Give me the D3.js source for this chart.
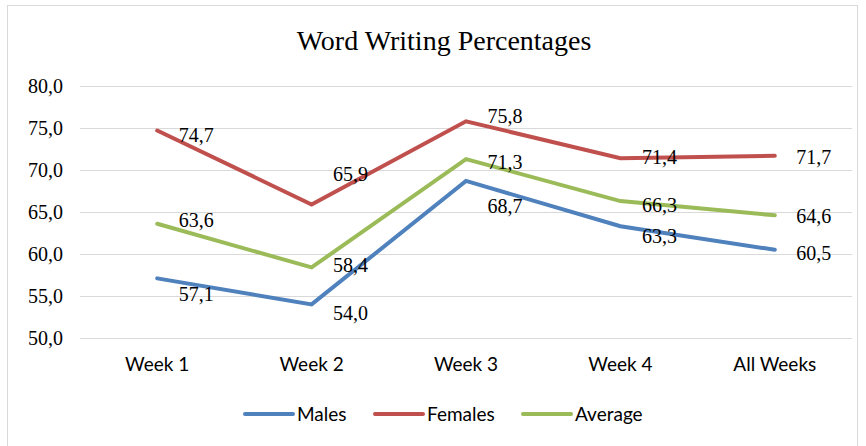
<!DOCTYPE html>
<html>
<head>
<meta charset="utf-8">
<script src="https://cdn.jsdelivr.net/npm/d3@7"></script>
<style>
  body { margin: 0; background: #fff; }
</style>
</head>
<body>
<div id="chart"></div>
<script>
// data
const categories = ["Week 1", "Week 2", "Week 3", "Week 4", "All Weeks"];
const males = [57.1, 54.0, 68.7, 63.3, 60.5];
const females = [74.7, 65.9, 75.8, 71.4, 71.7];
const average = [63.6, 58.4, 71.3, 66.3, 64.6];
const yTicks = [50, 55, 60, 65, 70, 75, 80];

// where each value label sits vertically, relative to its point (px)
const labelShift = {
  Males: [16, 9, 25, 10, 3],
  Females: [4, -30, -5, -1, 1],
  Average: [-4, -2, 3, 4, 1]
};

const series = [
  { name: "Males", values: males, color: "#4f81bd" },
  { name: "Females", values: females, color: "#c0504d" },
  { name: "Average", values: average, color: "#9bbb59" }
];

// set up
const width = 866, height = 446;
const margin = { top: 86, left: 80, right: 14, bottom: 108 };
const fmt = v => d3.format(".1f")(v).replace(".", ",");

const svg = d3.select("#chart").append("svg")
    .attr("width", width)
    .attr("height", height);

// outer frame
svg.append("rect")
    .attr("x", 7.5).attr("y", 5.5)
    .attr("width", 850).attr("height", 460)
    .attr("fill", "#fff")
    .attr("stroke", "#d9d9d9");

// scales
const x = d3.scaleBand()
    .domain(categories)
    .range([margin.left, width - margin.right]);

const y = d3.scaleLinear()
    .domain([50, 80])
    .range([height - margin.bottom, margin.top]);

// gridlines + y labels
const yAxis = d3.axisLeft(y)
    .tickValues(yTicks)
    .tickSize(-(width - margin.left - margin.right))
    .tickFormat(fmt)
    .tickPadding(17);

svg.append("g")
    .attr("transform", `translate(${margin.left},0)`)
    .call(yAxis)
    .call(g => g.select(".domain").remove())
    .call(g => g.selectAll(".tick line").attr("stroke", "#d9d9d9"))
    .call(g => g.selectAll(".tick text")
        .attr("font-family", "'Liberation Serif', 'Times New Roman', serif")
        .attr("font-size", "20px")
        .attr("fill", "#000"));

// x labels
const xAxis = d3.axisBottom(x).tickSize(0).tickPadding(20);
svg.append("g")
    .attr("transform", `translate(0,${height - margin.bottom})`)
    .call(xAxis)
    .call(g => g.select(".domain").remove())
    .call(g => g.selectAll(".tick text")
        .attr("font-family", "Lato, 'Open Sans', sans-serif")
        .attr("font-size", "19px")
        .attr("fill", "#000"));

// lines
const line = d3.line()
    .x((d, i) => x(categories[i]) + x.bandwidth() / 2)
    .y(d => y(d));

svg.append("g")
  .selectAll("path")
  .data(series)
  .join("path")
    .attr("fill", "none")
    .attr("stroke", d => d.color)
    .attr("stroke-width", 4)
    .attr("stroke-linecap", "round")
    .attr("stroke-linejoin", "miter")
    .attr("d", d => line(d.values));

// value labels
series.forEach(s => {
  svg.append("g")
    .selectAll("text")
    .data(s.values)
    .join("text")
      .attr("x", (d, i) => x(categories[i]) + x.bandwidth() / 2 + 39)
      .attr("y", (d, i) => y(d) + labelShift[s.name][i])
      .attr("dy", "0.35em")
      .attr("text-anchor", "middle")
      .attr("font-family", "'Liberation Serif', 'Times New Roman', serif")
      .attr("font-size", "20px")
      .text(fmt);
});

// title
svg.append("text")
    .attr("x", 444)
    .attr("y", 40)
    .attr("dy", "0.35em")
    .attr("text-anchor", "middle")
    .attr("font-family", "'Liberation Serif', 'Times New Roman', serif")
    .attr("font-size", "28px")
    .text("Word Writing Percentages");

// legend
const legendX = [245, 375, 523];
const legend = svg.append("g")
  .selectAll("g")
  .data(series)
  .join("g")
    .attr("transform", (d, i) => `translate(${legendX[i]},414)`);

legend.append("line")
    .attr("x1", 0).attr("x2", 48)
    .attr("stroke", d => d.color)
    .attr("stroke-width", 4)
    .attr("stroke-linecap", "round");

legend.append("text")
    .attr("x", 52)
    .attr("dy", "0.35em")
    .attr("font-family", "Lato, 'Open Sans', sans-serif")
    .attr("font-size", "19px")
    .text(d => d.name);
</script>
</body>
</html>
